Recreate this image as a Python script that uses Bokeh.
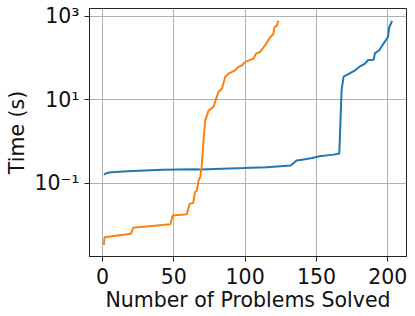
from bokeh.plotting import figure
from bokeh.models import Range1d, FixedTicker
from bokeh.embed import file_html
from bokeh.resources import INLINE

# Blue series: problems solved vs time (s)
blue_x = [1, 3, 6, 18, 42, 65, 69, 99, 115, 132, 136, 140, 144, 147, 152, 162, 165, 166, 167.6, 169, 173, 177, 180, 184, 186, 190, 191, 194, 197, 200, 201, 203]
blue_logy = [-0.79, -0.75, -0.73, -0.71, -0.67, -0.66, -0.665, -0.63, -0.61, -0.57, -0.45, -0.43, -0.41, -0.39, -0.35, -0.31, -0.29, -0.29, 1.23, 1.56, 1.63, 1.71, 1.79, 1.87, 1.95, 1.96, 2.12, 2.19, 2.35, 2.50, 2.74, 2.89]

# Orange series
orange_x = [1, 1.4, 20, 21.5, 47.6, 49.2, 59.2, 61, 63.6, 64.8, 66.2, 67.3, 68.5, 69.5, 70.8, 72, 74.4, 77.8, 79.7, 81.3, 83.7, 86, 88.3, 93, 95.3, 97.7, 100, 105.8, 107.7, 110.5, 114, 117.5, 119.8, 120.5, 122.2, 123.3]
orange_logy = [-2.47, -2.29, -2.205, -2.06, -1.98, -1.77, -1.74, -1.49, -1.47, -1.21, -1.17, -0.93, -0.85, -0.61, 0.03, 0.51, 0.75, 0.83, 1.03, 1.19, 1.27, 1.55, 1.63, 1.71, 1.79, 1.83, 1.91, 1.99, 2.11, 2.15, 2.31, 2.50, 2.58, 2.74, 2.78, 2.90]

x_ticks = [0, 50, 100, 150, 200]
y_ticks = [0.1, 10, 1000]
y_tick_labels = {0.1: "10\u207b\u00b9", 10: "10\u00b9", 1000: "10\u00b3"}

blue_y = [10 ** v for v in blue_logy]
orange_y = [10 ** v for v in orange_logy]

p = figure(width=415, height=316, output_backend="svg", toolbar_location=None,
           y_axis_type="log",
           x_range=Range1d(-9.1, 213.1), y_range=Range1d(10 ** -2.75, 10 ** 3.19),
           min_border_left=89, min_border_right=9, min_border_top=8, min_border_bottom=60)

p.line(blue_x, blue_y, line_color="#1f77b4", line_width=2)
p.line(orange_x, orange_y, line_color="#ff7f0e", line_width=2)

p.xaxis.ticker = FixedTicker(ticks=x_ticks)
p.yaxis.ticker = FixedTicker(ticks=y_ticks)
p.yaxis.major_label_overrides = y_tick_labels

for ax in (p.xaxis[0], p.yaxis[0]):
    ax.axis_line_color = "#222222"
    ax.major_tick_line_color = "#222222"
    ax.major_tick_in = 0
    ax.major_tick_out = 5
    ax.minor_tick_line_color = None
    ax.major_label_text_font = "DejaVu Sans"
    ax.major_label_text_font_size = "20.5px"
    ax.major_label_text_color = "#111111"
    ax.axis_label_text_font = "DejaVu Sans"
    ax.axis_label_text_font_size = "20.5px"
    ax.axis_label_text_font_style = "normal"
    ax.axis_label_text_color = "#111111"

p.xaxis.axis_label = "Number of Problems Solved"
p.yaxis.axis_label = "Time (s)"
p.xaxis.major_label_standoff = 6
p.yaxis.major_label_standoff = 5
p.xaxis.axis_label_standoff = 1
p.yaxis.axis_label_standoff = 2

p.grid.grid_line_color = "#b0b0b0"
p.grid.grid_line_width = 1
p.outline_line_color = "#222222"
p.outline_line_width = 1
p.background_fill_color = "white"
p.border_fill_color = "white"

open("out.html", "w").write(file_html(p, INLINE))
